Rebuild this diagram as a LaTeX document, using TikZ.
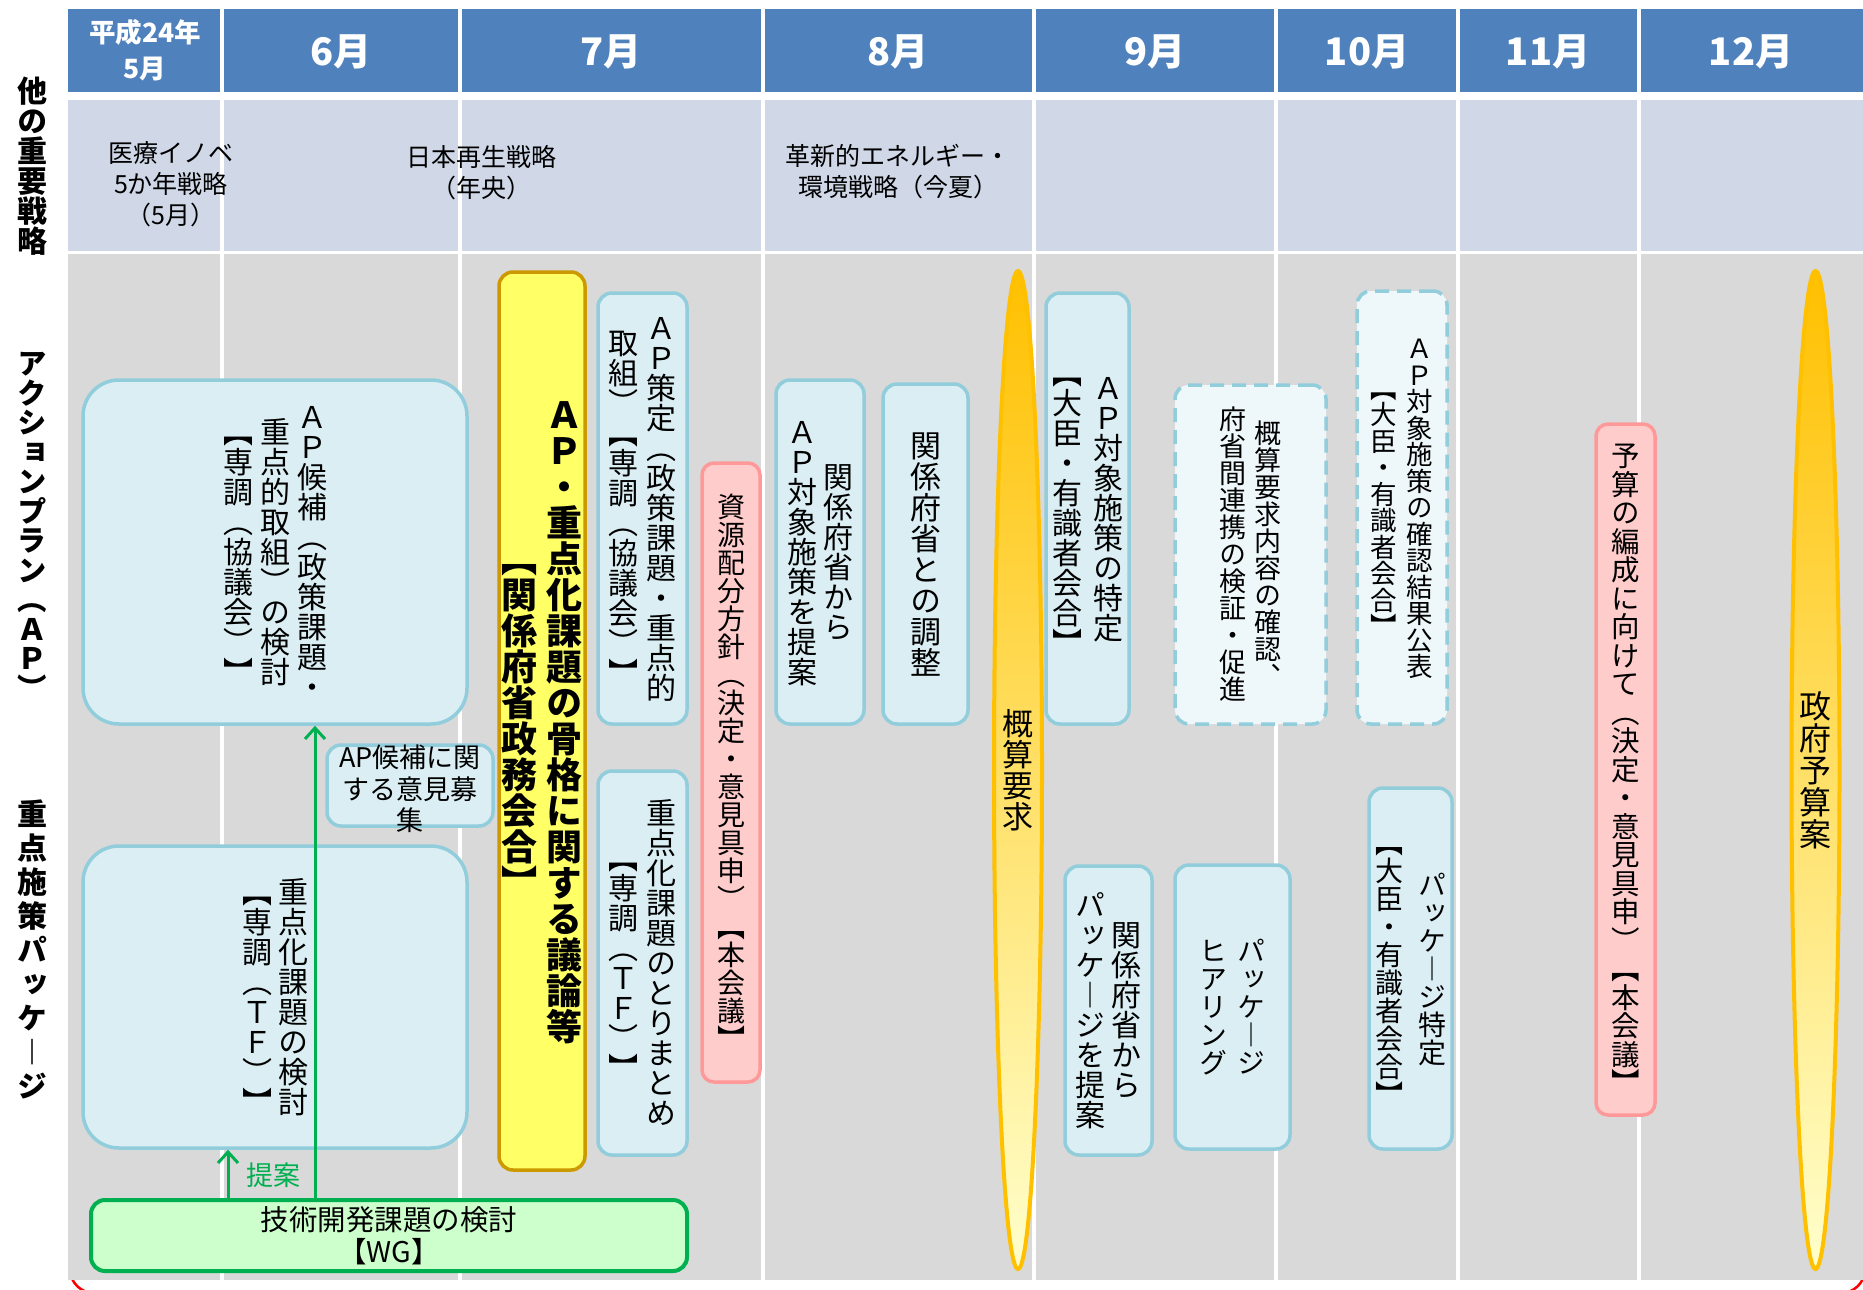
\documentclass[tikz,border=0pt]{standalone}
\usepackage{fontspec}
\setmainfont{Noto Sans CJK JP}
\newfontfamily\vjp[RawFeature=+vert]{Noto Sans CJK JP}
\usetikzlibrary{arrows.meta}
\definecolor{hdr}{HTML}{4F81BD}
\definecolor{rowtwo}{HTML}{D0D8E8}
\definecolor{rowthree}{HTML}{D9D9D9}
\definecolor{bxfill}{HTML}{DAEEF3}
\definecolor{bxline}{HTML}{92CDDC}
\definecolor{dbxfill}{HTML}{EEF7FA}
\definecolor{pkfill}{HTML}{FFCCCC}
\definecolor{pkline}{HTML}{FF9999}
\definecolor{yefill}{HTML}{FFFF66}
\definecolor{yeline}{HTML}{CC9900}
\definecolor{grfill}{HTML}{CCFFCC}
\definecolor{grline}{HTML}{00B050}
\definecolor{spline}{HTML}{FFC000}
\definecolor{spt}{HTML}{FFC000}
\definecolor{spm}{HTML}{FFE699}
\definecolor{spb}{HTML}{FFFFCC}
% vertical (upright, stacked) text
\newdimen\vextra
\def\vcolloop#1{\ifx#1\relax\else\hbox to 1em{\hss\vrule height\dimexpr.88em+\vextra\relax depth\dimexpr.12em+\vextra\relax width0pt\relax#1\hss}\expandafter\vcolloop\fi}
\newcommand\vcol[1]{\vbox{\offinterlineskip\vcolloop#1\relax}}
\newcommand\vOne[2]{{\vjp\fontsize{#1}{#1}\selectfont\vcol{#2}}}
\newcommand\vTwo[4]{{\vjp\fontsize{#1}{#1}\selectfont$\vcenter{\vcol{#4}}\kern#2pt\vcenter{\vcol{#3}}$}}
\newcommand\vThree[5]{{\vjp\fontsize{#1}{#1}\selectfont$\vcenter{\vcol{#5}}\kern#2pt\vcenter{\vcol{#4}}\kern#2pt\vcenter{\vcol{#3}}$}}
\tikzset{
  bx/.style={draw=bxline, fill=bxfill, line width=3.5pt, rounded corners=14pt, inner sep=0pt},
  bigbx/.style={bx, rounded corners=36pt},
  dbx/.style={bx, fill=dbxfill, dash pattern=on 14pt off 8pt},
  pk/.style={draw=pkline, fill=pkfill, line width=3.5pt, rounded corners=12pt, inner sep=0pt},
  ye/.style={draw=yeline, fill=yefill, line width=3.5pt, rounded corners=14pt, inner sep=0pt},
  gr/.style={draw=grline, fill=grfill, line width=4pt, rounded corners=14pt, inner sep=0pt},
  spindle/.style={draw=spline, line width=4pt, top color=spt, middle color=spm, bottom color=spb},
  arr/.style={draw=grline, line width=3pt, -{Straight Barb[length=11pt,width=20pt,line width=3pt]}},
  mon/.style={text=white, font=\bfseries\fontsize{38}{42}\selectfont, inner sep=0pt},
  strat/.style={align=center, font=\fontsize{25}{31}\selectfont, inner sep=0pt},
  side/.style={inner sep=0pt},
}
\begin{document}
\begin{tikzpicture}[x=1pt,y=-1pt]
\useasboundingbox (0,0) rectangle (1863,1290);
\fill[white] (0,0) rectangle (1863,1290);
% red frame (mostly hidden)
\draw[red, line width=2.5pt, rounded corners=24pt] (70,300) rectangle (1865,1293);
% backgrounds
\fill[hdr] (68,9) rectangle (1863,92);
\fill[rowtwo] (68,100) rectangle (1863,251);
\fill[rowthree] (68,254) rectangle (1863,1280);
\foreach \x in {222,460,763,1034,1276,1458,1639}
  \draw[white, line width=3.5pt] (\x,5) -- (\x,1282);
% header
\node[text=white, font=\bfseries\fontsize{26.5}{36}\selectfont, align=center, inner sep=0pt] (m5) at (145,50) {平成24年\\5月};
\node[mon] (m6) at (341,52) {6月};
\node[mon] (m7) at (611,52) {7月};
\node[mon] (m8) at (898,52) {8月};
\node[mon] (m9) at (1155,52) {9月};
\node[mon] (m10) at (1367,52) {10月};
\node[mon] (m11) at (1548,52) {11月};
\node[mon] (m12) at (1751,52) {12月};
% row 2
\node[strat] (s1) at (171,184) {医療イノベ\\5か年戦略\\（5月）};
\node[strat] (s2) at (481,173) {日本再生戦略\\（年央）};
\node[strat] (s3) at (898,172) {革新的エネルギー・\\環境戦略（今夏）};
% side labels
\node[side] (l1) at (32,166) {\bfseries\vOne{30}{他の重要戦略}};
\node[side] (l2) at (32,526) {\bfseries\vOne{29.5}{アクションプラン︵ＡＰ︶}};
\node[side] (l3) at (32,950) {\bfseries\vextra=2pt\vOne{30}{重点施策パッケ︱ジ}};
% boxes
\node[bigbx, minimum width=384, minimum height=344] (apc) at (275,552)
  {\vThree{30}{7}{ＡＰ候補︵政策課題・}{重点的取組︶の検討}{︻専調︵協議会︶︼}};
\node[bx, minimum width=166, minimum height=81] (iken) at (410,785.5) {};
\node[align=center, font=\fontsize{27}{31.5}\selectfont, inner sep=0pt] (ikent) at (410,789) {AP候補に関\\する意見募\\集};
\node[bigbx, minimum width=384, minimum height=302] (tk) at (275,997)
  {\vTwo{30}{6}{重点化課題の検討}{︻専調︵ＴＦ︶︼}};
\node[ye, minimum width=86, minimum height=898] (ye) at (542,721)
  {\bfseries\vTwo{36}{9}{ＡＰ・重点化課題の骨格に関する議論等}{︻関係府省政務会合︼}};
\node[bx, minimum width=89, minimum height=431] (apst) at (642.5,508.5)
  {\vTwo{30}{8}{ＡＰ策定︵政策課題・重点的}{取組︶︻専調︵協議会︶︼}};
\node[bx, minimum width=89, minimum height=384] (tori) at (642.5,963)
  {\vTwo{30}{8}{重点化課題のとりまとめ}{︻専調︵ＴＦ︶︼}};
\node[pk, minimum width=58, minimum height=619] (pk1) at (731,772.5)
  {\vOne{28}{資源配分方針︵決定・意見具申︶︻本会議︼}};
\node[bx, minimum width=88, minimum height=344] (apt) at (820,552)
  {\vTwo{30}{6}{関係府省から}{ＡＰ対象施策を提案}};
\node[bx, minimum width=85, minimum height=340] (chos) at (925.5,554)
  {\vOne{31}{関係府省との調整}};
\path[spindle] (1018,770) ellipse [x radius=24, y radius=499];
\node[inner sep=0pt] (gai) at (1018,770) {\vOne{31}{概算要求}};
\node[bx, minimum width=83, minimum height=431] (aptok) at (1087.5,508.5)
  {\vTwo{30}{11}{ＡＰ対象施策の特定}{︻大臣・有識者会合︼}};
\node[dbx, minimum width=151, minimum height=339] (kaku) at (1250.5,554.5)
  {\vTwo{27}{8}{概算要求内容の確認︑}{府省間連携の検証・促進}};
\node[dbx, minimum width=90, minimum height=433] (kohyo) at (1402,507.5)
  {\vTwo{26.5}{9.5}{ＡＰ対象施策の確認結果公表}{︻大臣・有識者会合︼}};
\node[bx, minimum width=87, minimum height=289] (pkt) at (1108.5,1010.5)
  {\vTwo{30}{6}{関係府省から}{パッケ︱ジを提案}};
\node[bx, minimum width=115, minimum height=284] (hear) at (1232.5,1007)
  {\vTwo{28}{10}{パッケ︱ジ}{ヒアリング}};
\node[bx, minimum width=83, minimum height=361] (pktok) at (1410.5,968.5)
  {\vTwo{28}{15}{パッケ︱ジ特定}{︻大臣・有識者会合︼}};
\node[pk, minimum width=59, minimum height=691] (pk2) at (1625.5,769.5)
  {\vOne{28.5}{予算の編成に向けて︵決定・意見具申︶︻本会議︼}};
\path[spindle] (1815.5,770) ellipse [x radius=24, y radius=499];
\node[inner sep=0pt] (seifu) at (1815.5,770) {\vOne{32}{政府予算案}};
\node[gr, minimum width=596, minimum height=71] (wg) at (389,1235.5) {};
\node[align=center, font=\fontsize{28.5}{32}\selectfont, inner sep=0pt] (wgt) at (389,1236) {技術開発課題の検討\\【WG】};
% arrows
\coordinate (xa) at (228,0);
\coordinate (xb) at (315,0);
\draw[arr] (wg.north -| xa) -- (tk.south -| xa);
\draw[arr] (wg.north -| xb) -- (apc.south -| xb);
\node[text=grline, font=\fontsize{27}{27}\selectfont, inner sep=0pt] (teian) at (273,1175) {提案};
\end{tikzpicture}
\end{document}
